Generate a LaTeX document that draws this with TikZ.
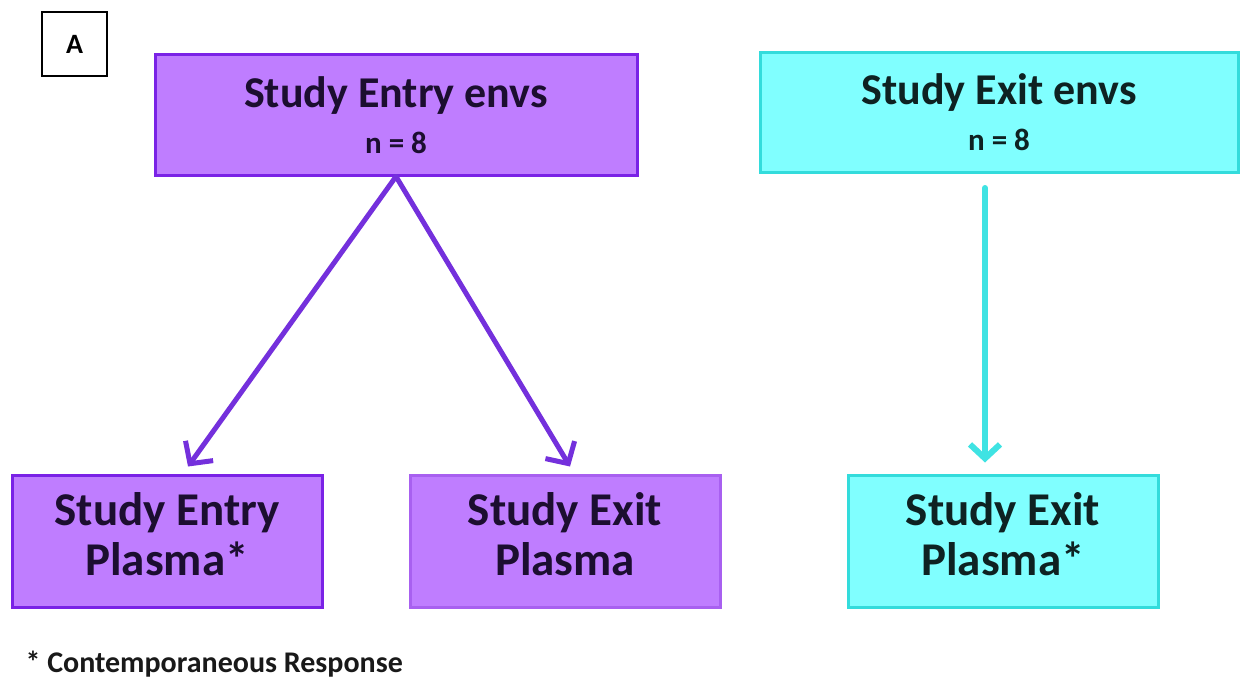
\documentclass[tikz,border=0pt]{standalone}
\usepackage{fontspec}
\setmainfont{Carlito}
\usetikzlibrary{arrows.meta}
\definecolor{pfill}{HTML}{BF7DFF}
\definecolor{pdraw}{HTML}{7A22E6}
\definecolor{pdrawl}{HTML}{A860F0}
\definecolor{parrow}{HTML}{7430DC}
\definecolor{cfill}{HTML}{80FFFF}
\definecolor{cdraw}{HTML}{33DCDC}
\definecolor{carrow}{HTML}{3FE3E3}
\definecolor{ptext}{HTML}{1C0E30}
\definecolor{ctext}{HTML}{0E2222}
\tikzset{
  pbox/.style={draw=pdraw, fill=pfill, line width=3pt, align=center, text=ptext, inner sep=0pt},
  cbox/.style={draw=cdraw, fill=cfill, line width=3pt, align=center, text=ctext, inner sep=0pt},
  topbox/.style={minimum height=120pt, font=\bfseries\fontsize{44}{48}\selectfont},
  botbox/.style={minimum width=310pt, minimum height=132pt, text depth=14pt, font=\bfseries\fontsize{47}{50}\selectfont},
  parr/.style={draw=parrow, line width=5pt, line cap=round, -{Straight Barb[length=16pt,width=34pt,line width=5pt]}},
  carr/.style={draw=carrow, line width=6pt, line cap=round, -{Straight Barb[length=14pt,width=30pt,line width=6pt]}},
  labelbox/.style={draw=black, line width=2.5pt, minimum width=65pt, minimum height=64pt, inner sep=0pt, font=\bfseries\fontsize{28}{30}\selectfont}
}
\begin{document}
\begin{tikzpicture}[x=1pt,y=-1pt]
\useasboundingbox[fill=white] (0,0) rectangle (1250,690);
\node[labelbox] (lab) at (74.5,44) {A};
\node[pbox, topbox, minimum width=482pt] (tl) at (396,115)
  {Study Entry envs\\[-2pt]\fontsize{31}{36}\selectfont n = 8};
\node[cbox, topbox, minimum width=478pt] (tr) at (999,112.5)
  {Study Exit envs\\[-2pt]\fontsize{31}{36}\selectfont n = 8};
\node[pbox, botbox] (bl) at (167,541) {Study Entry\\ Plasma*};
\node[pbox, botbox, draw=pdrawl] (bm) at (565,541) {Study Exit\\ Plasma};
\node[cbox, botbox] (br) at (1003,541) {Study Exit\\ Plasma*};
\node[anchor=west, font=\bfseries\fontsize{30}{32}\selectfont, text=black!90] (note) at (22,664) {* Contemporaneous Response};
\draw[parr] (tl.south) -- ([xshift=21pt,yshift=7pt]bl.north);
\draw[parr] (tl.south) -- ([xshift=5pt,yshift=7pt]bm.north);
\draw[carr] ([xshift=-14pt,yshift=-14pt]tr.south) -- ([xshift=-18pt,yshift=11pt]br.north);
\end{tikzpicture}
\end{document}
